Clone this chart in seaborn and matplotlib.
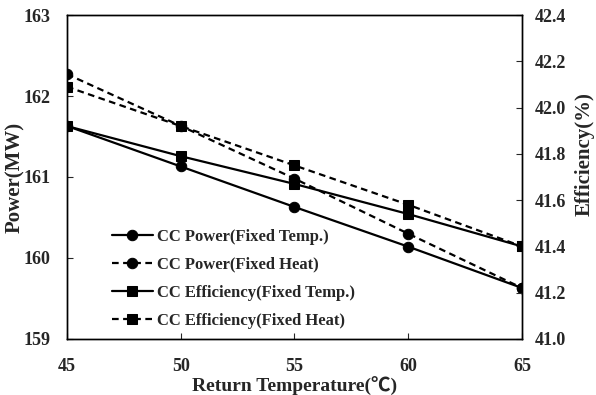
import matplotlib
matplotlib.use("Agg")
import matplotlib.pyplot as plt
import seaborn as sns
import pandas as pd

temps = [45, 50, 55, 60, 65]
power_fixed_temp = [161.63, 161.13, 160.63, 160.14, 159.63]
power_fixed_heat = [162.27, 161.63, 160.98, 160.30, 159.63]
eff_fixed_temp = [41.92, 41.79, 41.67, 41.54, 41.40]
eff_fixed_heat = [42.09, 41.92, 41.75, 41.58, 41.40]
labels = ["CC Power(Fixed Temp.)", "CC Power(Fixed Heat)",
          "CC Efficiency(Fixed Temp.)", "CC Efficiency(Fixed Heat)"]
xticks = [45, 50, 55, 60, 65]
yticks_left = [159, 160, 161, 162, 163]
yticks_right = [41.0, 41.2, 41.4, 41.6, 41.8, 42.0, 42.2, 42.4]

sns.set_style("ticks")
fam = ["Liberation Serif", "Noto Sans CJK SC", "DejaVu Serif"]
plt.rcParams["font.family"] = fam
plt.rcParams["font.weight"] = "bold"

fig = plt.figure(figsize=(5.96, 3.95), dpi=100)
ax = fig.add_axes([0.1124, 0.1418, 0.7634, 0.8202])
ax2 = ax.twinx()

dash = (0, (3, 2))
lw = 1.6
ms = 7.5
df = pd.DataFrame({"t": temps, "pft": power_fixed_temp, "pfh": power_fixed_heat,
                   "eft": eff_fixed_temp, "efh": eff_fixed_heat})

sns.lineplot(data=df, x="t", y="pft", ax=ax, color="black", lw=lw, marker="o",
             markersize=ms, markeredgecolor="black", label=labels[0], legend=False)
sns.lineplot(data=df, x="t", y="pfh", ax=ax, color="black", lw=lw, marker="o",
             markersize=ms, markeredgecolor="black", linestyle=dash, label=labels[1], legend=False)
sns.lineplot(data=df, x="t", y="eft", ax=ax2, color="black", lw=lw, marker="s",
             markersize=ms, markeredgecolor="black", label=labels[2], legend=False)
sns.lineplot(data=df, x="t", y="efh", ax=ax2, color="black", lw=lw, marker="s",
             markersize=ms, markeredgecolor="black", linestyle=dash, label=labels[3], legend=False)

ax.set_xlim(45, 65)
ax.set_ylim(159, 163)
ax2.set_ylim(41.0, 42.4)
ax.set_xticks(xticks)
ax.set_yticks(yticks_left)
ax2.set_yticks(yticks_right)
ax2.set_yticklabels([f"{v:.1f}" for v in yticks_right])

for a in (ax, ax2):
    for s in a.spines.values():
        s.set_visible(True)
        s.set_linewidth(1.0)
        s.set_color("black")
ax.tick_params(axis="x", direction="in", length=4, pad=14, labelsize=13, width=0.8)
ax.tick_params(axis="y", direction="in", length=4, pad=12, labelsize=13, width=0.8)
ax2.tick_params(axis="y", direction="in", length=4, pad=9, labelsize=13, width=0.8)
for lab in ax.get_xticklabels() + ax.get_yticklabels() + ax2.get_yticklabels():
    lab.set_fontweight("bold")

ax.set_xlabel("Return Temperature(℃)", fontsize=14, fontweight="bold", va="center")
ax.xaxis.set_label_coords(0.5, -0.146)
ax.set_ylabel("Power(MW)", fontsize=15, fontweight="bold", va="center")
ax.yaxis.set_label_coords(-0.114, 0.50)
ax2.set_ylabel("Efficiency(%)", fontsize=15, fontweight="bold", va="center", rotation=90)
ax2.yaxis.set_label_coords(1.138, 0.57)

h1, l1 = ax.get_legend_handles_labels()
h2, l2 = ax2.get_legend_handles_labels()
leg = ax2.legend(h1 + h2, l1 + l2, loc="lower left", bbox_to_anchor=(0.065, -0.015),
                 frameon=False, handlelength=2.5, handletextpad=0.25,
                 labelspacing=0.72, prop={"family": fam, "weight": "bold", "size": 12})

fig.savefig("out.png", dpi=100)
